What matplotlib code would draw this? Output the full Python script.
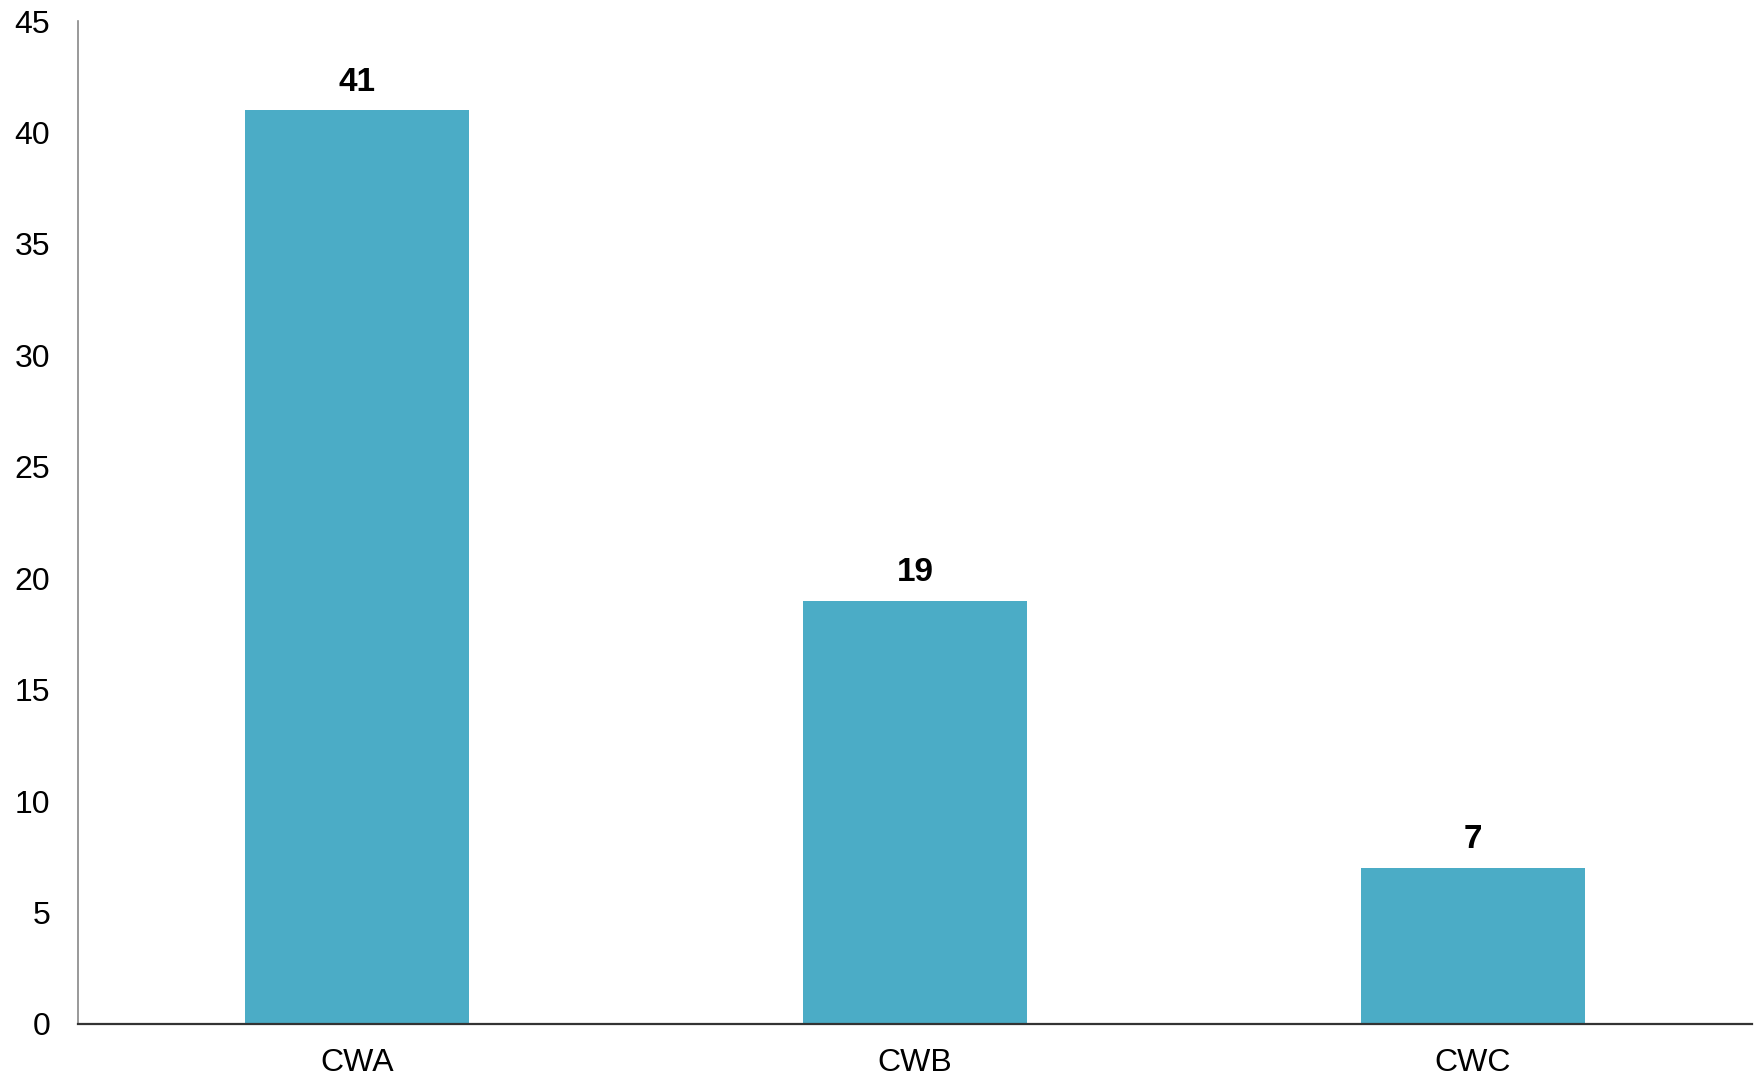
import matplotlib
matplotlib.use("Agg")
import matplotlib.pyplot as plt

plt.rcParams['font.family'] = ['Liberation Sans', 'DejaVu Sans']

categories = ['CWA', 'CWB', 'CWC']
values = [41, 19, 7]
yticks = [0, 5, 10, 15, 20, 25, 30, 35, 40, 45]

fig = plt.figure(figsize=(17.62, 10.79), dpi=100)
ax = fig.add_axes([0.0443, 0.051, 0.950, 0.9295])

bars = ax.bar(categories, values, width=0.4, color='#4BACC6')
for rect, v in zip(bars, values):
    ax.annotate(str(v), (rect.get_x() + rect.get_width() / 2, v),
                xytext=(0, 9), textcoords='offset points',
                ha='center', va='bottom', fontsize=24, fontweight='bold')

ax.set_xlim(-0.5, 2.5)
ax.set_ylim(0, 45)
ax.set_yticks(yticks)
ax.tick_params(axis='both', length=0, labelsize=23)
ax.tick_params(axis='y', pad=20)
ax.tick_params(axis='x', pad=17)

for s in ['top', 'right']:
    ax.spines[s].set_visible(False)
ax.spines['left'].set_color('#888888')
ax.spines['left'].set_linewidth(1.2)
ax.spines['bottom'].set_color('#333333')
ax.spines['bottom'].set_linewidth(1.6)

fig.savefig('out.png', dpi=100)
